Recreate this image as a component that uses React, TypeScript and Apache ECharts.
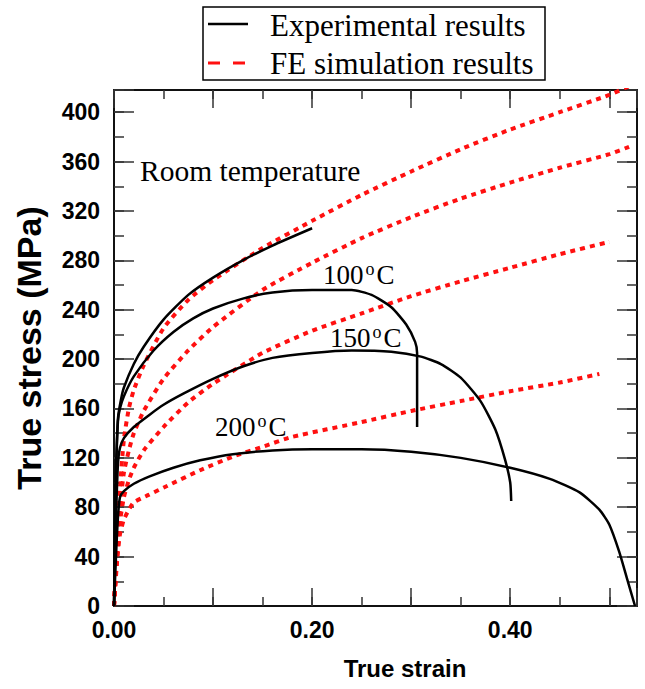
import React, { useEffect, useRef } from "react";
import * as echarts from "echarts";

// ---- data (strain, stress MPa) ----
const rtExp = [[0,0],[0.001,60],[0.002,110],[0.004,152],[0.007,167],[0.01,177],[0.02,196],[0.03,210],[0.05,232],[0.075,252],[0.1,266],[0.13,280],[0.16,292],[0.2,306]];
const rtFE = [[0,0],[0.003,50],[0.006,95],[0.01,135],[0.015,160],[0.02,175],[0.03,195],[0.05,225],[0.075,248],[0.1,264],[0.15,290],[0.2,312],[0.25,333],[0.3,352],[0.35,370],[0.4,386],[0.45,400],[0.5,414],[0.52,421]];
const t100Exp = [[0,0],[0.001,55],[0.002,105],[0.004,150],[0.006,160],[0.01,170],[0.02,186],[0.04,207],[0.06,222],[0.08,233],[0.1,241],[0.13,249],[0.16,254],[0.2,256],[0.24,256],[0.26,252],[0.28,242],[0.295,228],[0.304,214],[0.306,205],[0.306,145]];
const t100FE = [[0,0],[0.003,45],[0.006,80],[0.01,108],[0.015,126],[0.02,140],[0.03,158],[0.05,184],[0.075,207],[0.1,226],[0.15,256],[0.2,278],[0.25,298],[0.3,315],[0.35,330],[0.4,343],[0.45,355],[0.5,366],[0.52,372]];
const t150Exp = [[0,0],[0.002,70],[0.004,115],[0.006,128],[0.01,136],[0.02,145],[0.036,155],[0.05,163],[0.07,172],[0.1,184],[0.13,194],[0.16,201],[0.2,205],[0.24,207],[0.28,206],[0.31,202],[0.33,196],[0.35,185],[0.37,166],[0.385,143],[0.395,118],[0.4,100],[0.401,85]];
const t150FE = [[0,0],[0.003,40],[0.006,68],[0.01,88],[0.015,102],[0.02,112],[0.03,126],[0.05,145],[0.075,165],[0.1,180],[0.15,205],[0.2,223],[0.25,237],[0.3,251],[0.35,263],[0.4,274],[0.45,285],[0.5,295]];
const t200Exp = [[0,0],[0.002,40],[0.004,72],[0.006,88],[0.01,93],[0.02,99],[0.036,105],[0.06,112],[0.087,118],[0.12,123],[0.16,126],[0.2,127],[0.25,127],[0.3,125],[0.35,120],[0.4,112],[0.44,103],[0.47,92],[0.49,78],[0.5,66],[0.51,44],[0.518,22],[0.526,0]];
const t200FE = [[0,0],[0.003,35],[0.006,58],[0.01,70],[0.015,78],[0.02,84],[0.035,90],[0.053,97],[0.087,110],[0.12,121],[0.15,129],[0.18,137],[0.25,149],[0.3,158],[0.35,166],[0.4,174],[0.45,181],[0.49,188]];

const xMin = 0, xMax = 0.528, xMajor = 0.1, xMinor = 0.05;
const yMin = 0, yMax = 418, yMajor = 40, yMinor = 20;
const xTitle = "True strain";
const yTitle = "True stress (MPa)";
const legendNames = ["Experimental results", "FE simulation results"];
const tempLabels = [
  { num: "100", x: 323, y: 275 },
  { num: "150", x: 330, y: 338 },
  { num: "200", x: 215, y: 427 },
];

const sans = "'Liberation Sans', Arial, sans-serif";
const serif = "'Liberation Serif', 'Times New Roman', serif";

export default function App() {
  const ref = useRef<HTMLDivElement>(null);
  useEffect(() => {
    if (!ref.current) return;
    const chart = echarts.init(ref.current, undefined, { renderer: "svg" });
    const grid = { left: 114, right: 8, top: 90, bottom: 83 };
    const baseX = (interval: number, pos: string, len: number, labels: boolean, line: boolean) => ({
      type: "value", min: xMin, max: xMax, interval, position: pos,
      axisLine: { show: line, onZero: false, lineStyle: { color: "#111", width: 2 } },
      axisTick: { show: true, inside: true, length: len, lineStyle: { color: "#333", width: 1.5 } },
      axisLabel: labels ? {
        show: true, margin: 12, color: "#000", fontFamily: sans, fontWeight: "bold", fontSize: 23,
        formatter: (v: number) => { const k = Math.round(v * 100); return (k % 20 === 0 && v < 0.5) ? v.toFixed(2) : ""; },
      } : { show: false },
      splitLine: { show: false },
    });
    const baseY = (interval: number, pos: string, len: number, labels: boolean, line: boolean) => ({
      type: "value", min: yMin, max: yMax, interval, position: pos,
      axisLine: { show: line, onZero: false, lineStyle: { color: "#111", width: 2 } },
      axisTick: { show: true, inside: true, length: len, lineStyle: { color: "#333", width: 1.5 } },
      axisLabel: labels ? {
        show: true, margin: 14, color: "#000", fontFamily: sans, fontWeight: "bold", fontSize: 23,
        formatter: (v: number) => { const r = Math.round(v); return (r % 40 === 0 && r <= 400) ? String(r) : ""; },
      } : { show: false },
      splitLine: { show: false },
    });
    const y0: any = baseY(yMajor, "left", 20, true, true);
    y0.name = yTitle; y0.nameLocation = "middle"; y0.nameGap = 68;
    y0.nameTextStyle = { fontFamily: sans, fontWeight: "bold", fontSize: 34, color: "#000" };

    const expStyle = { color: "#000", width: 2.5 };
    const feStyle = { color: "#ff1010", width: 4, type: [5, 5] as any };
    const mk = (data: number[][], style: any) => ({
      type: "line", data, showSymbol: false, symbol: "none", smooth: 0.2, clip: true,
      xAxisIndex: 0, yAxisIndex: 0, lineStyle: style, silent: true,
    });

    const sup = (num: string) => `{a|${num}}{b|o}{a|C}`;

    chart.setOption({
      animation: false,
      grid,
      xAxis: [baseX(xMajor, "bottom", 18, true, true), baseX(xMinor, "bottom", 9, false, false), baseX(xMajor, "top", 18, false, true), baseX(xMinor, "top", 9, false, false)],
      yAxis: [y0, baseY(yMinor, "left", 10, false, false), baseY(yMajor, "right", 20, false, true), baseY(yMinor, "right", 10, false, false)],
      series: [
        mk(rtFE, feStyle), mk(t100FE, feStyle), mk(t150FE, feStyle), mk(t200FE, feStyle),
        mk(rtExp, expStyle), mk(t100Exp, expStyle), mk(t150Exp, expStyle), mk(t200Exp, expStyle),
      ],
      graphic: [
        { type: "rect", shape: { x: 203, y: 7, width: 342, height: 73 }, style: { fill: "#fff", stroke: "#000", lineWidth: 1.5 }, z: 10 },
        { type: "line", shape: { x1: 208, y1: 24, x2: 248, y2: 24 }, style: { stroke: "#000", lineWidth: 2.5 }, z: 11 },
        { type: "line", shape: { x1: 208, y1: 63, x2: 250, y2: 63 }, style: { stroke: "#ff1010", lineWidth: 3, lineDash: [12, 13] }, z: 11 },
        { type: "text", x: 270, y: 25, style: { text: legendNames[0], font: `31px ${serif}`, fill: "#000", verticalAlign: "middle" }, z: 11 },
        { type: "text", x: 270, y: 63, style: { text: legendNames[1], font: `31px ${serif}`, fill: "#000", verticalAlign: "middle" }, z: 11 },
        { type: "text", x: 140, y: 171, style: { text: "Room temperature", font: `29.5px ${serif}`, fill: "#000", verticalAlign: "middle" }, z: 11 },
        { type: "text", x: 405, y: 668, style: { text: xTitle, font: `bold 24px ${sans}`, fill: "#000", align: "center", verticalAlign: "middle" }, z: 11 },
        ...tempLabels.map((t) => ({
          type: "text", x: t.x, y: t.y, z: 11,
          style: {
            text: sup(t.num), verticalAlign: "middle", fill: "#000",
            rich: {
              a: { fontFamily: serif, fontSize: 27, lineHeight: 30, fill: "#000" },
              b: { fontFamily: serif, fontSize: 18, lineHeight: 30, verticalAlign: "top", padding: [0, 2, 0, 2], fill: "#000" },
            },
          },
        })),
      ],
    });
    return () => chart.dispose();
  }, []);
  return <div ref={ref} style={{ width: 645, height: 689, position: "absolute", left: 0, top: 0, background: "#fff" }} />;
}
